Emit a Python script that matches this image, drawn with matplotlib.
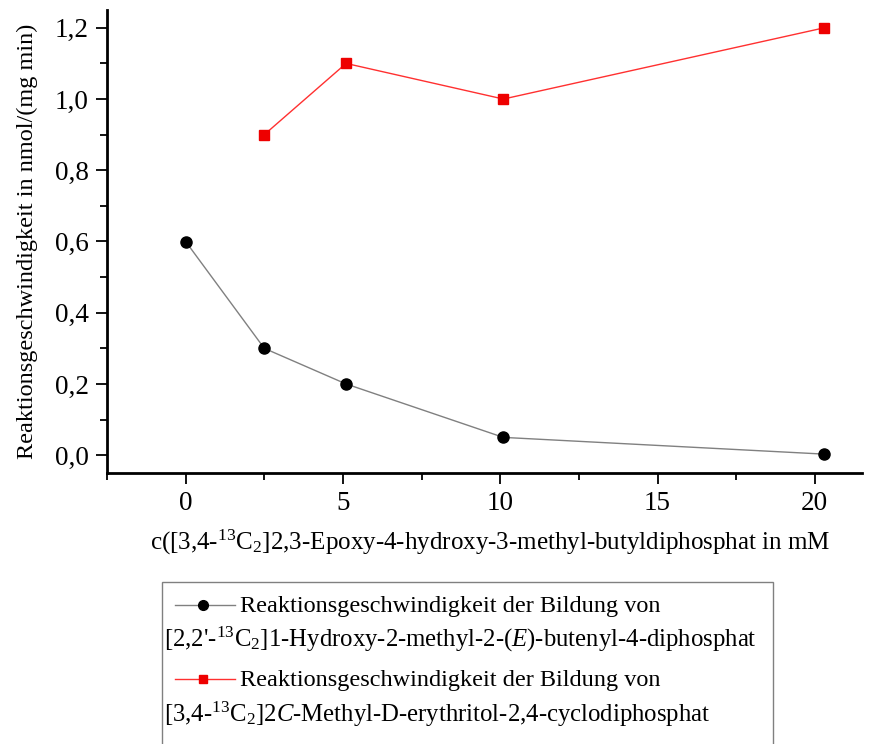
import matplotlib
matplotlib.use("Agg")
import matplotlib.pyplot as plt
from matplotlib.lines import Line2D
from matplotlib.patches import Rectangle
from matplotlib.ticker import MultipleLocator, FuncFormatter

plt.rcParams['font.family'] = ['Liberation Serif', 'DejaVu Serif']
plt.rcParams['mathtext.fontset'] = 'custom'
plt.rcParams['mathtext.rm'] = 'Liberation Serif'
plt.rcParams['mathtext.it'] = 'Liberation Serif:italic'

# data
x_hmbpp = [0, 2.5, 5.1, 10.1, 20.3]
y_hmbpp = [0.6, 0.3, 0.2, 0.05, 0.003]
x_mecpp = [2.5, 5.1, 10.1, 20.3]
y_mecpp = [0.9, 1.1, 1.0, 1.2]

xlabel = r"c([3,4-$^{13}$C$_2$]2,3-Epoxy-4-hydroxy-3-methyl-butyldiphosphat in mM"
ylabel = "Reaktionsgeschwindigkeit in nmol/(mg min)"
leg_lines = ["Reaktionsgeschwindigkeit der Bildung von",
             r"[2,2'-$^{13}$C$_2$]1-Hydroxy-2-methyl-2-($\mathit{E}$)-butenyl-4-diphosphat",
             "Reaktionsgeschwindigkeit der Bildung von",
             r"[3,4-$^{13}$C$_2$]2$\mathit{C}$-Methyl-D-erythritol-2,4-cyclodiphosphat"]

W, H = 885, 744
fig = plt.figure(figsize=(W / 100, H / 100), dpi=100)
ax = fig.add_axes([107 / W, 1 - 473 / H, 755 / W, 463 / H])

grey = '#808080'
red_line = '#ff3030'
red = '#ee0000'

ax.plot(x_hmbpp, y_hmbpp, color=grey, lw=1, marker='o', ms=8,
        mfc='black', mec='black', zorder=3)
ax.plot(x_mecpp, y_mecpp, color=red_line, lw=1, marker='s', ms=7,
        mfc=red, mec=red, zorder=3)

ax.set_xlim(-2.5, 21.5)
ax.set_ylim(-0.05, 1.25)
ax.xaxis.set_major_locator(MultipleLocator(5))
ax.xaxis.set_minor_locator(MultipleLocator(2.5))
ax.yaxis.set_major_locator(MultipleLocator(0.2))
ax.yaxis.set_minor_locator(MultipleLocator(0.1))
ax.yaxis.set_major_formatter(FuncFormatter(lambda v, p: f"{v:.1f}".replace('.', ',')))

for s in ['top', 'right']:
    ax.spines[s].set_visible(False)
for s in ['left', 'bottom']:
    ax.spines[s].set_linewidth(2)
ax.tick_params(which='major', direction='out', length=8, width=1.3, labelsize=19.5, pad=5)
ax.tick_params(which='minor', direction='out', length=5, width=1.3)

ax.set_xlabel(xlabel, fontsize=18)
ax.xaxis.set_label_coords(0.508, -0.118)
ax.xaxis.label.set_va('top')
ax.set_ylabel(ylabel, fontsize=17.5, labelpad=12)

# legend box, drawn by hand so the second lines wrap under the symbols
def fx(px):
    return px / W

def fy(py):
    return 1 - py / H

fig.add_artist(Rectangle((fx(162), fy(760)), fx(773) - fx(162), fy(582) - fy(760),
                         transform=fig.transFigure, fill=False, ec=grey, lw=1))
styles = [(grey, 'o', 'black', 7), None, (red_line, 's', red, 5.5), None]
rows = [612, 647, 686, 722]
for label, style, yb in zip(leg_lines, styles, rows):
    if style is not None:
        lc, mk, mc, ms = style
        yh = fy(yb - 7)
        fig.add_artist(Line2D([fx(175), fx(235)], [yh, yh], color=lc, lw=1,
                              transform=fig.transFigure))
        fig.add_artist(Line2D([fx(203)], [yh], marker=mk, ms=ms, mfc=mc, mec=mc,
                              ls='none', transform=fig.transFigure))
        fig.text(fx(240), fy(yb), label, fontsize=17.5, va='baseline', ha='left')
    else:
        fig.text(fx(164), fy(yb), label, fontsize=17.8, va='baseline', ha='left')

fig.savefig("out.png", dpi=100)
